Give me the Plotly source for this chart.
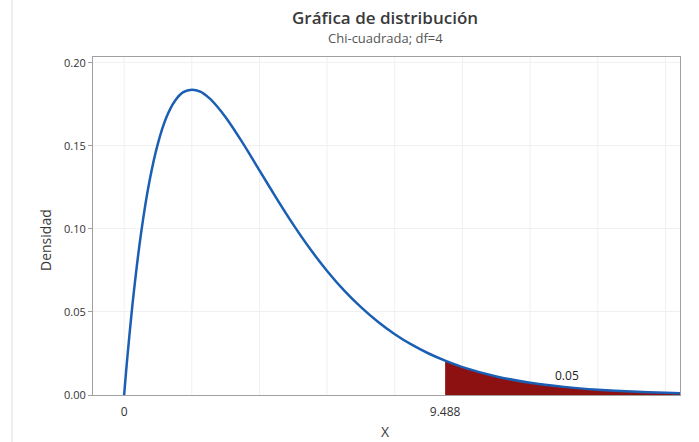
import plotly.graph_objects as go

# Density values (Chi-square, df=4)
x_vals = [0, 0.05, 0.1, 0.25, 0.5, 0.75, 1, 1.25, 1.5, 1.75, 2, 2.25, 2.5, 2.75, 3, 3.5, 4,
          4.5, 5, 5.5, 6, 6.5, 7, 7.5, 8, 8.5, 9, 9.488, 10, 11, 12, 13, 14, 15, 16, 16.43]
dens = [0, 0.0122, 0.0238, 0.0552, 0.0974, 0.1289, 0.1516, 0.1673, 0.1771, 0.1824, 0.1839,
        0.1827, 0.1791, 0.1738, 0.1673, 0.1520, 0.1353, 0.1186, 0.1026, 0.0879, 0.0747,
        0.0630, 0.0529, 0.0441, 0.0366, 0.0303, 0.0250, 0.0207, 0.0168, 0.0112, 0.0074,
        0.0049, 0.0032, 0.0021, 0.0013, 0.0011]
crit = 9.488
alpha_label = "0.05"
y_ticks = [0.00, 0.05, 0.10, 0.15, 0.20]
y_tick_text = ["0.00", "0.05", "0.10", "0.15", "0.20"]
x_ticks = [0, crit]
x_tick_text = ["0", "9.488"]
x_grid = [0, 2, 4, 6, 8, 10, 12, 14, 16]

tail_x = [x for x in x_vals if x >= crit]
tail_y = [d for x, d in zip(x_vals, dens) if x >= crit]

FONT = "Open Sans"
L, R, T, B = 93, 19, 57, 47
PW, PH = 699 - L - R, 442 - T - B

def px(xp):
    return (xp - L) / PW

def py(yp):
    return (442 - B - yp) / PH

fig = go.Figure()
fig.add_trace(go.Scatter(x=tail_x, y=tail_y, mode="lines", fill="tozeroy",
                         fillcolor="#8e1111", line=dict(color="#8e1111", width=0.5, shape="spline"),
                         hoverinfo="skip", showlegend=False))
fig.add_trace(go.Scatter(x=x_vals, y=dens, mode="lines",
                         line=dict(color="#1a5fb4", width=2.5, shape="spline", smoothing=0.6),
                         showlegend=False))

fig.update_layout(
    width=699, height=442,
    margin=dict(l=L, r=R, t=T, b=B),
    paper_bgcolor="white", plot_bgcolor="white",
    font=dict(family=FONT, color="#333333", size=11),
    showlegend=False,
    xaxis=dict(range=[-0.92, 16.43], tickmode="array", tickvals=x_ticks, ticktext=x_tick_text,
               showgrid=False, zeroline=False, showline=True, linecolor="#a0a0a0", linewidth=1,
               mirror=True, ticks="", tickfont=dict(size=12, color="#333333"), ticklabelstandoff=6),
    yaxis=dict(range=[0, 0.2036], tickmode="array", tickvals=y_ticks, ticktext=y_tick_text,
               showgrid=True, gridcolor="#f0f0f0", zeroline=False, showline=True,
               linecolor="#a0a0a0", linewidth=1, mirror=True, ticks="outside", ticklen=4,
               tickcolor="#a0a0a0", tickfont=dict(size=11, color="#333333")),
    annotations=[
        dict(text="Gráfica de distribución", xref="paper", yref="paper", x=px(385),
             y=py(17), xanchor="center", yanchor="middle", showarrow=False,
             font=dict(size=17, color="#3a3a3a", family=FONT, weight=600)),
        dict(text="Chi-cuadrada; df=4", xref="paper", yref="paper", x=px(385),
             y=py(38), xanchor="center", yanchor="middle", showarrow=False,
             font=dict(size=13, color="#555555", family=FONT)),
        dict(text="Densidad", xref="paper", yref="paper", x=px(45), y=py(240),
             xanchor="center", yanchor="middle", textangle=-90, showarrow=False,
             font=dict(size=14, color="#3a3a3a", family=FONT)),
        dict(text="X", xref="paper", yref="paper", x=px(385), y=py(431),
             xanchor="center", yanchor="middle", showarrow=False,
             font=dict(size=14, color="#3a3a3a", family=FONT)),
        dict(text=alpha_label, x=13.1, y=0.0115, xref="x", yref="y", showarrow=False,
             xanchor="center", yanchor="middle", font=dict(size=12, color="#222222", family=FONT)),
    ],
    shapes=[
        dict(type="line", xref="paper", yref="paper", x0=px(12), x1=px(12),
             y0=py(442), y1=py(0), line=dict(color="#dddddd", width=1)),
    ],
)
for gx in x_grid:
    fig.add_shape(type="line", xref="x", yref="paper", x0=gx, x1=gx, y0=0, y1=1,
                  line=dict(color="#f0f0f0", width=1), layer="below")

fig.write_html("out.html", config={"displayModeBar": False},
               post_script="document.body.style.margin='0';document.body.style.overflow='hidden';")
